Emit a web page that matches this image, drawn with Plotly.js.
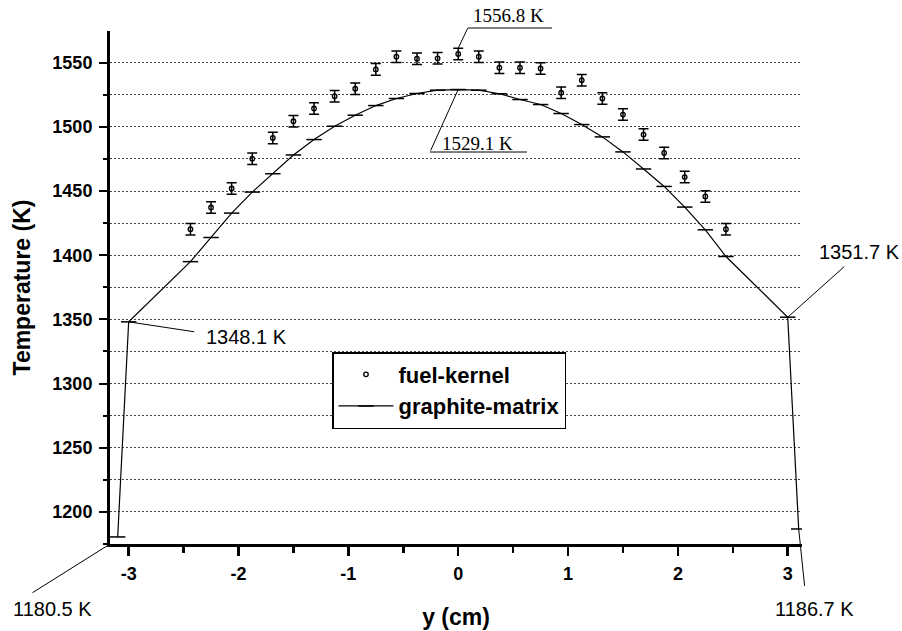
<!DOCTYPE html>
<html>
<head>
<meta charset="utf-8">
<script src="https://cdn.plot.ly/plotly-3.0.1.min.js"></script>
<style>
  html, body { margin: 0; padding: 0; background: #fff; }
  #chart { width: 902px; height: 631px; }
</style>
</head>
<body>
<div id="chart"></div>
<script>
// ---- data ----
var fuelX = [-2.4375, -2.25, -2.0625, -1.875, -1.6875, -1.5, -1.3125, -1.125, -0.9375, -0.75, -0.5625, -0.375, -0.1875, 0,
             0.1875, 0.375, 0.5625, 0.75, 0.9375, 1.125, 1.3125, 1.5, 1.6875, 1.875, 2.0625, 2.25, 2.4375];
var fuelT = [1420.3, 1437.2, 1452.0, 1475.2, 1491.4, 1504.4, 1514.3, 1523.9, 1529.7, 1544.8, 1554.7, 1553.1, 1553.4, 1556.8,
             1554.7, 1546.1, 1546.1, 1545.5, 1526.6, 1536.4, 1522.1, 1509.6, 1494.0, 1479.7, 1460.9, 1445.8, 1420.3];
var fuelErr = [4.5, 4.5, 4.5, 4.5, 4.5, 4.5, 4.5, 4.5, 4.5, 4.5, 4.5, 4.5, 4.5, 4.5,
               4.5, 4.5, 4.5, 4.5, 4.5, 4.5, 4.5, 4.5, 4.5, 4.5, 4.5, 4.5, 4.5];

var graphX = [-3.1, -3.0, -2.4375, -2.25, -2.0625, -1.875, -1.6875, -1.5, -1.3125, -1.125, -0.9375, -0.75, -0.5625, -0.375, -0.1875, 0,
              0.1875, 0.375, 0.5625, 0.75, 0.9375, 1.125, 1.3125, 1.5, 1.6875, 1.875, 2.0625, 2.25, 2.4375, 3.0, 3.1];
var graphT = [1180.5, 1348.1, 1395.0, 1413.8, 1432.8, 1449.2, 1463.5, 1478.1, 1490.1, 1500.5, 1509.1, 1516.6, 1522.1, 1526.0, 1528.6, 1529.1,
              1528.6, 1525.8, 1521.3, 1517.4, 1510.4, 1501.8, 1492.2, 1480.5, 1467.2, 1453.6, 1437.5, 1419.8, 1399.0, 1351.7, 1186.7];

var xTickVals = [-3, -2, -1, 0, 1, 2, 3];
var xTickText = ['-3', '-2', '-1', '0', '1', '2', '3'];

var seriesNames = ['fuel-kernel', 'graphite-matrix'];

// ---- layout helpers (pixel -> paper) ----
var L = 110, R = 100, T = 31, B = 87, W = 902, H = 631;
function px(x) { return (x - L) / (W - L - R); }
function py(y) { return (H - B - y) / (H - T - B); }

var sans = 'Liberation Sans, Arial, sans-serif';
var serif = 'Liberation Serif, Times New Roman, serif';

var fuelPeak = fuelX.indexOf(0);
var graphPeak = graphX.indexOf(0);
var gLeft = graphX.indexOf(-3.0), gRight = graphX.indexOf(3.0);
var gEndR = graphX.indexOf(3.1);

var traces = [
  {
    type: 'scatter', mode: 'markers', name: seriesNames[0],
    x: fuelX, y: fuelT,
    marker: { symbol: 'circle-open', size: 4.5, color: '#000', line: { width: 1.3, color: '#000' } },
    error_y: { type: 'data', array: fuelErr, visible: true, color: '#000', thickness: 1.5, width: 5 }
  },
  {
    type: 'scatter', mode: 'lines+markers', name: seriesNames[1],
    x: graphX, y: graphT,
    line: { color: '#000', width: 1.2 },
    marker: { symbol: 'line-ew', size: 11, color: '#000', line: { width: 1.5, color: '#000' } }
  }
];

function txt(text, x, y, family, size) {
  return { text: text, xref: 'paper', yref: 'paper', x: px(x), y: py(y), xanchor: 'center', yanchor: 'middle',
           showarrow: false, font: { family: family, size: size, color: '#000' } };
}
function leader(xref, yref, x, y, ax, ay) {
  return { text: ' ', xref: xref, yref: yref, x: x, y: y, ax: ax, ay: ay, axref: 'pixel', ayref: 'pixel',
           showarrow: true, arrowhead: 0, arrowwidth: 1, arrowcolor: '#000', standoff: 0, startstandoff: 0,
           font: { size: 1 }, borderpad: 0 };
}

var annotations = [
  txt(fuelT[fuelPeak].toFixed(1) + ' K', 508, 15, serif, 19),
  txt(graphT[graphPeak].toFixed(1) + ' K', 478, 143, serif, 19),
  txt(graphT[gLeft].toFixed(1) + ' K', 246, 337, sans, 20),
  txt(graphT[gRight].toFixed(1) + ' K', 859, 252, sans, 20),
  txt(graphT[0].toFixed(1) + ' K', 52, 609, sans, 20),
  txt(graphT[gEndR].toFixed(1) + ' K', 814, 609, sans, 20),
  leader('x', 'y', fuelX[fuelPeak], fuelT[fuelPeak] + fuelErr[fuelPeak], 10, -21),
  leader('x', 'y', graphX[graphPeak], graphT[graphPeak], -28, 62),
  leader('x', 'y', graphX[gLeft], graphT[gLeft], 66, 10),
  leader('x', 'y', graphX[gRight], graphT[gRight], 57, -51),
  leader('paper', 'paper', 0, 0, -78, 49),
  leader('x', 'y', graphX[gEndR], graphT[gEndR], 6, 58)
];

var shapes = [
  { type: 'line', xref: 'paper', yref: 'paper', x0: px(468), x1: px(552), y0: py(28), y1: py(28), line: { color: '#000', width: 1 } },
  { type: 'line', xref: 'paper', yref: 'paper', x0: px(430), x1: px(527), y0: py(152), y1: py(152), line: { color: '#000', width: 1 } }
];

var gridStyle = { gridcolor: '#444', gridwidth: 1, griddash: '2px,2px' };

var layout = {
  width: W, height: H,
  margin: { l: L, r: R, t: T, b: B, pad: 0 },
  paper_bgcolor: '#fff', plot_bgcolor: '#fff',
  showlegend: true,
  font: { family: sans, color: '#000' },
  xaxis: {
    range: [-3.17, 3.13],
    showgrid: false, zeroline: false,
    showline: true, linecolor: '#000', linewidth: 3,
    tickmode: 'array', tickvals: xTickVals, ticktext: xTickText,
    ticks: 'outside', ticklen: 9, tickwidth: 2.5, tickcolor: '#000',
    ticklabelstandoff: 2,
    tickfont: { family: sans, size: 18, weight: 'bold', color: '#000' },
    minor: { dtick: 0.5, tick0: 0, ticks: 'outside', ticklen: 6, tickwidth: 2.5, tickcolor: '#000', showgrid: false },
    title: { text: 'y (cm)', font: { family: sans, size: 23, weight: 'bold', color: '#000' }, standoff: 27 }
  },
  yaxis: {
    range: [1175, 1574.7],
    zeroline: false,
    showline: true, linecolor: '#000', linewidth: 3,
    dtick: 50, tick0: 1200,
    ticks: 'outside', ticklen: 8, tickwidth: 2, tickcolor: '#000',
    ticklabelstandoff: 3,
    showgrid: true, gridcolor: gridStyle.gridcolor, gridwidth: gridStyle.gridwidth, griddash: gridStyle.griddash,
    tickfont: { family: sans, size: 18, weight: 'bold', color: '#000' },
    minor: { dtick: 25, tick0: 1175, ticks: 'outside', ticklen: 4, tickwidth: 2, tickcolor: '#000',
             showgrid: true, gridcolor: gridStyle.gridcolor, gridwidth: gridStyle.gridwidth, griddash: gridStyle.griddash },
    title: { text: 'Temperature (K)', font: { family: sans, size: 23, weight: 'bold', color: '#000' }, standoff: 16 }
  },
  legend: {
    x: px(332), y: py(352), xanchor: 'left', yanchor: 'top',
    bgcolor: '#fff', bordercolor: '#000', borderwidth: 1.5,
    font: { family: sans, size: 22, weight: 'bold', color: '#000' },
    itemwidth: 55, tracegroupgap: 0
  },
  annotations: annotations,
  shapes: shapes
};

Plotly.newPlot('chart', traces, layout, { displayModeBar: false, staticPlot: true });
</script>
</body>
</html>
